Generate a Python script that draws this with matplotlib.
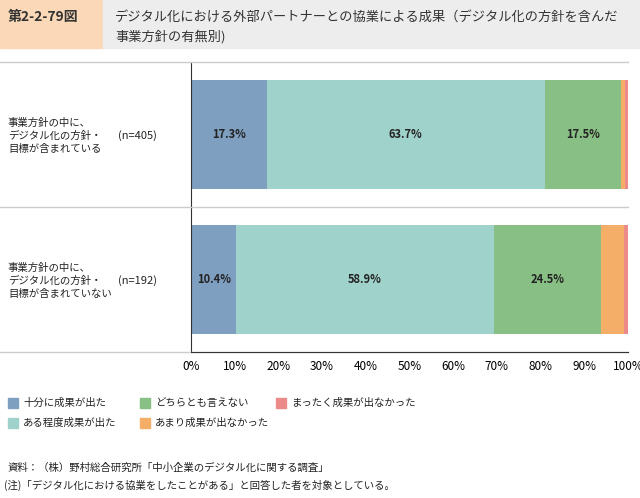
import matplotlib
matplotlib.use("Agg")
import matplotlib.pyplot as plt
from matplotlib.patches import Rectangle

plt.rcParams["font.family"] = "Noto Sans CJK JP"

categories = ["事業方針の中に、\nデジタル化の方針・\n目標が含まれている", "事業方針の中に、\nデジタル化の方針・\n目標が含まれていない"]
ns = ["(n=405)", "(n=192)"]
series = ["十分に成果が出た", "ある程度成果が出た", "どちらとも言えない", "あまり成果が出なかった", "まったく成果が出なかった"]
values = [
    [17.3, 10.4],
    [63.7, 58.9],
    [17.5, 24.5],
    [0.8, 5.3],
    [0.7, 0.9],
]
colors = ["#7f9fc0", "#a0d2cc", "#88bf84", "#f4ae68", "#ec8a8a"]
ticks = [0, 10, 20, 30, 40, 50, 60, 70, 80, 90, 100]

W, H = 640, 498
fig = plt.figure(figsize=(6.4, 4.98), dpi=100)

def fx(px): return px / W
def fy(py): return 1 - py / H

# header
fig.patches.append(Rectangle((0, fy(48)), fx(103), 48 / H, transform=fig.transFigure, color="#fbd9b8", zorder=0))
fig.patches.append(Rectangle((fx(103), fy(48)), 1 - fx(103), 48 / H, transform=fig.transFigure, color="#ededed", zorder=0))
fig.text(fx(8), fy(17), "第2-2-79図", fontsize=10, fontweight="bold", color="#333333", va="center")
fig.text(fx(115), fy(17), "デジタル化における外部パートナーとの協業による成果（デジタル化の方針を含んだ", fontsize=9.5, color="#333333", va="center")
fig.text(fx(115), fy(37), "事業方針の有無別)", fontsize=9.5, color="#333333", va="center")

ax = fig.add_axes([fx(191), fy(352), fx(628) - fx(191), (352 - 62) / H])
y = [0, 1]
left = [0, 0]
for i, (s, c) in enumerate(zip(series, colors)):
    ax.barh(y, values[i], left=left, color=c, height=0.75, label=s)
    for j in range(2):
        if values[i][j] >= 5 and i < 3:
            ax.text(left[j] + values[i][j] / 2, y[j], f"{values[i][j]:.1f}%", ha="center", va="center", fontsize=8, fontweight="bold", color="#222222")
    left = [l + v for l, v in zip(left, values[i])]
ax.set_xlim(0, 100)
ax.set_ylim(1.5, -0.5)
ax.set_xticks(ticks)
ax.set_xticklabels([f"{t}%" for t in ticks], fontsize=8.5)
ax.set_yticks([])
for sp in ["top", "right"]:
    ax.spines[sp].set_visible(False)
ax.spines["bottom"].set_visible(False)
ax.spines["left"].set_color("#333333")
ax.tick_params(axis="x", length=0, pad=6)

for py in [62, 207, 352]:
    fig.add_artist(plt.Line2D([0, fx(628)], [fy(py), fy(py)], transform=fig.transFigure, color="#cccccc", lw=1))
fig.add_artist(plt.Line2D([fx(191), fx(628)], [fy(352), fy(352)], transform=fig.transFigure, color="#333333", lw=0.8))

for j, (cat, n) in enumerate(zip(categories, ns)):
    yc = 136 + j * 145
    fig.text(fx(8), fy(yc), cat, fontsize=7.5, va="center", ha="left", color="#222222", linespacing=1.4)
    fig.text(fx(118), fy(yc), n, fontsize=8, va="center", ha="left", color="#222222")

# legend
leg_pos = [(8, 403), (8, 423), (140, 403), (140, 423), (276, 403)]
order = [0, 1, 2, 3, 4]
for k, (px, py) in zip(order, leg_pos):
    fig.patches.append(Rectangle((fx(px), fy(py + 5)), fx(10), 10 / H, transform=fig.transFigure, color=colors[k]))
    fig.text(fx(px + 15), fy(py), series[k], fontsize=7.5, va="center", color="#222222")

fig.text(fx(8), fy(468), "資料：（株）野村総合研究所「中小企業のデジタル化に関する調査」", fontsize=7.5, va="center", color="#222222")
fig.text(fx(4), fy(485), "(注)「デジタル化における協業をしたことがある」と回答した者を対象としている。", fontsize=7.5, va="center", color="#222222")

fig.savefig("out.png", dpi=100)
